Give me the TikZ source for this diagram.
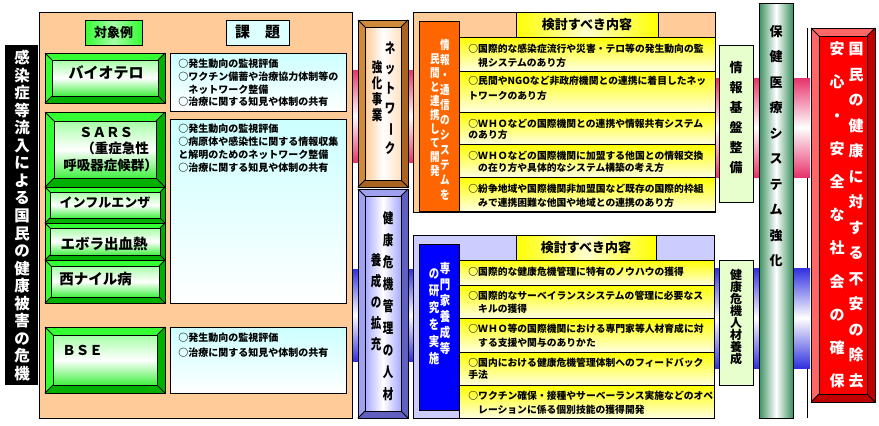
\documentclass[tikz,border=0pt]{standalone}
\usepackage{fontspec}
\setmainfont{Noto Sans CJK JP}
\usepackage{graphicx}
\definecolor{peach}{HTML}{FFCC99}
\definecolor{gLight}{HTML}{33FF33}
\definecolor{gDark}{HTML}{00B000}
\definecolor{gInT}{HTML}{A6FFA6}
\definecolor{gInB}{HTML}{40F040}
\definecolor{cyanT}{HTML}{CCFFFF}
\definecolor{cyanH}{HTML}{DDFFFF}
\definecolor{brownL}{HTML}{D08A3C}
\definecolor{brownD}{HTML}{A86420}
\definecolor{bluL}{HTML}{A0A0F0}
\definecolor{bluD}{HTML}{6060C0}
\definecolor{lavIn}{HTML}{A8A8FF}
\definecolor{lav}{HTML}{CCCCFF}
\definecolor{pinkB}{HTML}{E8336B}
\definecolor{blueBand}{HTML}{3030E0}
\definecolor{yel}{HTML}{FFFF00}
\definecolor{yelP}{HTML}{FFFFE0}
\definecolor{yelH}{HTML}{FFFFCC}
\definecolor{orangeB}{HTML}{FF6600}
\definecolor{blueB}{HTML}{0000FF}
\definecolor{lgreen}{HTML}{E6FFCC}
\definecolor{gcol}{HTML}{3A9060}
\definecolor{redL}{HTML}{FF6666}
\definecolor{redD}{HTML}{C00000}
\definecolor{redB}{HTML}{FF0000}
\newcommand\VB{\rotatebox[origin=c]{-90}{ー}}
\ExplSyntaxOn
\NewDocumentCommand\vtext{mm}
 {
  \vbox:n
   {
    \skip_set:Nn \baselineskip {#1}
    \dim_set:Nn \lineskiplimit {-\maxdimen}
    \tl_map_inline:nn {#2} { \hbox_to_wd:nn {1.1em} { \hss ##1 \hss } }
   }
 }
\ExplSyntaxOff
\newcommand\bevel[8]{%
  \fill[#6] (#1,#2) -- (#3,#2) -- ({#3-#5},{#2+#5}) -- ({#1+#5},{#2+#5}) -- ({#1+#5},{#4-#5}) -- (#1,#4) -- cycle;
  \fill[#7] (#3,#2) -- (#3,#4) -- (#1,#4) -- ({#1+#5},{#4-#5}) -- ({#3-#5},{#4-#5}) -- ({#3-#5},{#2+#5}) -- cycle;
  \path[draw,#8] ({#1+#5},{#2+#5}) rectangle ({#3-#5},{#4-#5});
  \draw (#1,#2) rectangle (#3,#4);
  \draw (#1,#2) -- ({#1+#5},{#2+#5}) (#3,#2) -- ({#3-#5},{#2+#5}) (#1,#4) -- ({#1+#5},{#4-#5}) (#3,#4) -- ({#3-#5},{#4-#5});
}
\tikzset{
  body/.style={anchor=north west, align=left, inner sep=0, font=\bfseries\fontsize{9.8}{#1}\selectfont},
  body/.default=14,
  lbody/.style={anchor=north west, align=left, inner sep=0, font=\bfseries\fontsize{10}{#1}\selectfont},
  lbody/.default=12.8,
  vt/.style={inner sep=0, font=\bfseries\fontsize{#1}{#1}\selectfont},
  lab/.style={inner sep=0, font=\bfseries\fontsize{#1}{#1}\selectfont},
  rowbox/.style={draw, top color=yel, bottom color=yelP},
  band/.style={top color=#1, bottom color=#1, middle color=white},
}
\begin{document}
\begin{tikzpicture}[x=1pt,y=-1pt,line width=0.8pt]
\useasboundingbox (0,0) rectangle (879,426);
\fill[white] (0,0) rectangle (879,426);

% bands
\shade[band=pinkB] (351,70) rectangle (414,162);
\shade[band=blueBand] (351,269) rectangle (414,361);
\draw (807,28) -- (807,418);
\shade[band=pinkB] (714,78) rectangle (810,177);
\shade[band=blueBand] (714,268) rectangle (810,368);

% black bar
\fill[black] (5,45) rectangle (38,385);
\node[vt=15.5, text=white] (risk) at (22,215.5) {\vtext{17.55pt}{感染症等流入による国民の健康被害の危機}};

% big peach box
\draw[fill=peach] (39,12) rectangle (352,418);
\node[draw, left color=gLight, right color=gLight, middle color=gInT, minimum width=57, minimum height=25, lab=13] (hA) at (113.5,32.5) {対象例};
\node[draw, fill=cyanH, minimum width=63, minimum height=25, lab=15] (hB) at (257.5,32.5) {課　題};

% green boxes
\bevel{45}{53}{165}{103}{7}{gLight}{gDark}{top color=gInT, bottom color=gInB, middle color=white}
\bevel{45}{112}{165}{187}{9}{gLight}{gDark}{top color=gInT, bottom color=gInB, middle color=white}
\bevel{45}{187}{165}{223}{5}{gLight}{gDark}{top color=gInT, bottom color=gInB, middle color=white}
\bevel{45}{223}{165}{260}{5}{gLight}{gDark}{top color=gInT, bottom color=gInB, middle color=white}
\bevel{45}{260}{165}{303}{6}{gLight}{gDark}{top color=gInT, bottom color=gInB, middle color=white}
\bevel{45}{327}{165}{393}{8}{gLight}{gDark}{top color=gInT, bottom color=gInB, middle color=white}
\node[lab=15] (bio) at (106,73) {バイオテロ};
\node[lab=13.5] (sars1) at (106,132) {ＳＡＲＳ};
\node[lab=13.5, anchor=west] (sars2) at (81,148) {（重症急性};
\node[lab=13.5, anchor=west] (sars3) at (63,165) {呼吸器症候群）};
\node[lab=13] (flu) at (105,203) {インフルエンザ};
\node[lab=14.5] (ebola) at (104,244) {エボラ出血熱};
\node[lab=14.5, anchor=west] (wn) at (59,279) {西ナイル病};
\node[lab=13.5, anchor=west] (bse) at (62,350) {ＢＳＥ};

% issue boxes
\draw[top color=cyanT, bottom color=white] (170,53) rectangle (346,111);
\draw[top color=cyanT, bottom color=white] (170,119) rectangle (346,303);
\draw[top color=cyanT, bottom color=white] (170,327) rectangle (346,393);
\node[lbody=12.6] (i1) at (178,59) {○発生動向の監視評価\\○ワクチン備蓄や治療協力体制等の\\　ネットワーク整備\\○治療に関する知見や体制の共有};
\node[lbody=13] (i2) at (178,124) {○発生動向の監視評価\\○病原体や感染性に関する情報収集\\と解明のためのネットワーク整備\\○治療に関する知見や体制の共有};
\node[lbody=14.5] (i3) at (178,333) {○発生動向の監視評価\\○治療に関する知見や体制の共有};

% middle bevel boxes
\bevel{358}{20}{408}{187}{7}{brownL}{brownD}{left color=peach, right color=peach!60!white, middle color=white}
\bevel{358}{189}{408}{418}{7}{bluL}{bluD}{left color=lavIn, right color=lavIn, middle color=white}
\node[vt=14] (netA) at (390,98) {\scalebox{0.75}[1]{\vtext{20pt}{ネットワ\VB ク}}};
\node[vt=14] (netB) at (377,91) {\scalebox{0.75}[1]{\vtext{16pt}{強化事業}}};
\node[vt=14] (hrA) at (388,306) {\scalebox{0.75}[1]{\vtext{22pt}{健康危機管理の人材}}};
\node[vt=14] (hrB) at (376,302) {\scalebox{0.75}[1]{\vtext{21pt}{養成の拡充}}};

% top frame
\draw[fill=peach] (413,12) rectangle (715,212);
\draw[fill=orangeB] (419,21) rectangle (459,211);
\node[draw, left color=yel, right color=yel, middle color=yelH, minimum width=142, minimum height=25, lab=13] (kt1) at (587,24.5) {検討すべき内容};
\draw[rowbox] (459,37) rectangle (715,71);
\draw[rowbox] (459,71) rectangle (715,112);
\draw[rowbox] (459,112) rectangle (715,144);
\draw[rowbox] (459,144) rectangle (715,177);
\draw[rowbox] (459,177) rectangle (715,211);
\node[body=14] (a1) at (468,43.5) {○国際的な感染症流行や災害・テロ等の発生動向の監\\　視システムのあり方};
\node[body=15] (a2) at (468,75.5) {○民間やNGOなど非政府機関との連携に着目したネッ\\トワークのあり方};
\node[body=11.5] (a3) at (468,118.5) {○ＷＨＯなどの国際機関との連携や情報共有システム\\のあり方};
\node[body=12] (a4) at (468,150.5) {○ＷＨＯなどの国際機関に加盟する他国との情報交換\\　の在り方や具体的なシステム構築の考え方};
\node[body=14] (a5) at (468,183.5) {○紛争地域や国際機関非加盟国など既存の国際的枠組\\　みで連携困難な他国や地域との連携のあり方};
\node[vt=12, text=white] (orA) at (445,120) {\scalebox{0.8}[1]{\vtext{15pt}{情報・通信のシステムを}}};
\node[vt=12, text=white] (orB) at (435,115.5) {\scalebox{0.8}[1]{\vtext{14pt}{民間と連携して開発}}};

% bottom frame
\draw[fill=lav] (413,235) rectangle (714,418);
\draw[fill=blueB] (419,244) rectangle (459,410);
\node[draw, left color=yel, right color=yel, middle color=yelH, minimum width=140, minimum height=25, lab=13] (kt2) at (586,247.5) {検討すべき内容};
\draw[rowbox] (459,260) rectangle (714,285);
\draw[rowbox] (459,285) rectangle (714,318);
\draw[rowbox] (459,318) rectangle (714,352);
\draw[rowbox] (459,352) rectangle (714,385);
\draw[rowbox] (459,385) rectangle (714,418);
\node[body=14] (b1) at (468,266.5) {○国際的な健康危機管理に特有のノウハウの獲得};
\node[body=13] (b2) at (468,290.5) {○国際的なサーベイランスシステムの管理に必要なス\\　キルの獲得};
\node[body=14] (b3) at (468,323.5) {○ＷＨＯ等の国際機関における専門家等人材育成に対\\　する支援や関与のありかた};
\node[body=12] (b4) at (468,357.5) {○国内における健康危機管理体制へのフィードバック\\手法};
\node[body=14] (b5) at (468,390.5) {○ワクチン確保・接種やサーベーランス実施などのオペ\\　レーションに係る個別技能の獲得開発};
\node[vt=13, text=white] (bbA) at (445,309) {\scalebox{0.8}[1]{\vtext{16pt}{専門家養成等}}};
\node[vt=13, text=white] (bbB) at (434,317) {\scalebox{0.8}[1]{\vtext{17pt}{の研究を実施}}};

% right side
\draw[fill=lgreen] (719,45) rectangle (753,202);
\node[vt=13] (info) at (736,117.5) {\vtext{20pt}{情報基盤整備}};
\draw[fill=lgreen] (719,260) rectangle (753,385);
\node[vt=12] (hr) at (736,317.5) {\vtext{12pt}{健康危機人材養成}};
\draw[left color=gcol, right color=gcol, middle color=white] (759,3) rectangle (793,418);
\node[vt=13] (sys) at (776,146) {\vtext{25.5pt}{保健医療システム強化}};

\bevel{811}{28}{875}{402}{8}{redL}{redD}{fill=redB}
\node[vt=15, text=white] (goalA) at (856,215) {\vtext{25.5pt}{国民の健康に対する不安の除去}};
\node[vt=15, text=white] (goalB) at (837,215) {\vtext{33.2pt}{安心・安全な社会の確保}};
\end{tikzpicture}
\end{document}
